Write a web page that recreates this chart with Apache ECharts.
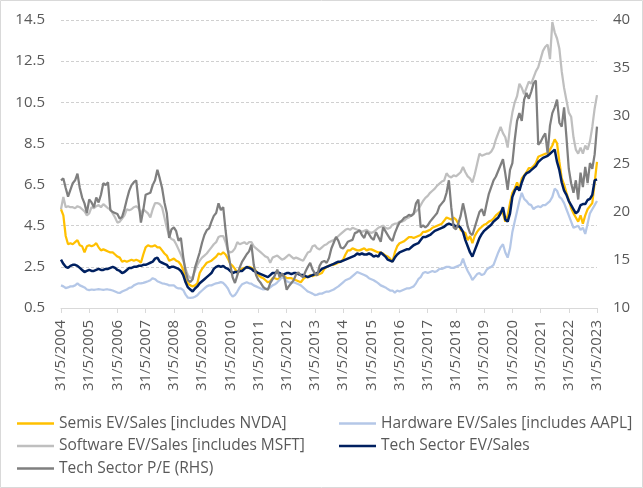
<!DOCTYPE html>
<html>
<head>
<meta charset="utf-8">
<script src="https://cdn.jsdelivr.net/npm/echarts@6/dist/echarts.min.js"></script>
<style>
  html, body { margin: 0; padding: 0; background: #fff; }
  #chart { width: 643px; height: 488px; }
</style>
</head>
<body>
<div id="chart"></div>
<script>
// monthly readings, 31/5/2004 .. 31/5/2023 (one row = one year from May)
var semis = [
  5.3, 5.0, 4.0, 3.6, 3.65, 3.6, 3.7, 3.8, 3.55, 3.5, 3.2, 3.5,
  3.55, 3.5, 3.55, 3.65, 3.45, 3.3, 3.35, 3.3, 3.25, 3.2, 3.2, 3.1,
  3.0, 2.95, 2.75, 2.8, 2.75, 2.8, 2.85, 2.8, 2.85, 2.8, 2.7, 3.1,
  3.45, 3.55, 3.5, 3.5, 3.55, 3.45, 3.45, 3.3, 3.15, 3.05, 2.8, 2.85,
  2.9, 2.8, 2.75, 2.6, 2.35, 1.9, 1.7, 1.6, 1.55, 1.6, 1.7, 2.2,
  2.4, 2.55, 2.7, 2.75, 2.8, 2.9, 3.0, 3.15, 3.1, 3.2, 3.1, 2.9,
  2.65, 2.55, 2.4, 2.2, 2.3, 2.4, 2.45, 2.45, 2.5, 2.45, 2.4, 2.3,
  2.1, 2.0, 1.95, 1.85, 1.75, 1.8, 1.95, 1.95, 1.9, 1.95, 2.0, 2.05,
  1.95, 1.95, 1.95, 1.9, 1.85, 1.8, 1.75, 1.9, 2.0, 2.0, 2.1, 2.05,
  2.1, 2.1, 2.15, 2.2, 2.4, 2.5, 2.55, 2.6, 2.6, 2.65, 2.7, 2.75,
  2.85, 3.1, 3.3, 3.3, 3.4, 3.35, 3.3, 3.3, 3.35, 3.4, 3.3, 3.35,
  3.35, 3.3, 3.25, 3.2, 3.2, 3.15, 3.05, 3.0, 2.9, 2.75, 3.2, 3.5,
  3.65, 3.7, 3.75, 3.85, 3.95, 3.95, 3.9, 3.95, 4.0, 4.05, 4.2, 4.2,
  4.25, 4.3, 4.4, 4.45, 4.5, 4.55, 4.6, 4.75, 4.9, 4.85, 4.8, 4.9,
  4.8, 4.6, 4.3, 4.2, 4.15, 3.8, 4.0, 3.65, 4.0, 4.2, 4.35, 4.45,
  4.55, 4.6, 4.7, 4.75, 4.85, 5.0, 5.1, 5.2, 5.1, 4.7, 5.0, 5.6,
  6.1, 6.3, 6.6, 6.3, 6.8, 6.95, 7.1, 7.3, 7.3, 7.4, 7.55, 7.85,
  7.9, 7.95, 8.0, 8.0, 8.2, 8.4, 8.7, 8.5, 7.6, 6.8, 6.5, 6.1,
  5.75, 5.35, 5.1, 4.9, 4.7, 5.0, 4.6, 5.0, 5.3, 5.45, 5.6, 6.6,
  7.6
];
var hardware = [
  1.6, 1.55, 1.47, 1.5, 1.55, 1.55, 1.6, 1.7, 1.6, 1.55, 1.5, 1.4,
  1.37, 1.4, 1.38, 1.4, 1.42, 1.4, 1.38, 1.4, 1.4, 1.38, 1.35, 1.3,
  1.25, 1.23, 1.3, 1.35, 1.4, 1.48, 1.5, 1.6, 1.65, 1.7, 1.7, 1.72,
  1.76, 1.8, 1.85, 1.95, 1.9, 1.8, 1.75, 1.7, 1.68, 1.65, 1.6, 1.6,
  1.6, 1.5, 1.45, 1.45, 1.37, 1.15, 1.0, 0.99, 1.0, 1.05, 1.12, 1.25,
  1.35, 1.45, 1.55, 1.6, 1.6, 1.65, 1.7, 1.72, 1.76, 1.72, 1.6, 1.45,
  1.2, 1.05, 1.13, 1.3, 1.5, 1.65, 1.7, 1.75, 1.7, 1.68, 1.6, 1.55,
  1.5, 1.45, 1.4, 1.42, 1.45, 1.5, 1.6, 1.65, 1.75, 1.86, 2.0, 1.95,
  1.8, 1.75, 1.72, 1.75, 1.7, 1.65, 1.6, 1.5, 1.4, 1.3, 1.25, 1.2,
  1.13, 1.15, 1.2, 1.2, 1.25, 1.3, 1.3, 1.35, 1.4, 1.48, 1.55, 1.65,
  1.75, 1.85, 1.9, 1.95, 2.05, 2.15, 2.25, 2.2, 2.15, 2.1, 2.05, 1.95,
  1.9, 1.85, 1.78, 1.7, 1.6, 1.55, 1.5, 1.42, 1.35, 1.35, 1.25, 1.35,
  1.3, 1.35, 1.4, 1.45, 1.45, 1.5, 1.55, 1.7, 1.9, 2.0, 2.2, 2.25,
  2.2, 2.25, 2.3, 2.25, 2.3, 2.4, 2.4, 2.45, 2.5, 2.5, 2.45, 2.45,
  2.5, 2.55, 2.6, 2.9, 2.55, 2.3, 2.1, 1.86, 2.0, 2.15, 2.2, 2.1,
  2.15, 2.35, 2.45, 2.5, 2.6, 2.9, 3.2, 3.45, 3.6, 3.2, 2.95, 3.4,
  4.2, 4.7, 5.2, 5.7, 6.1, 5.8, 5.7, 5.55, 5.5, 5.3, 5.4, 5.45,
  5.4, 5.5, 5.5, 5.6, 5.7, 5.9, 6.3, 6.2, 5.9, 5.8, 5.6, 5.3,
  5.0, 4.7, 4.4, 4.45, 4.5, 4.3, 4.4, 4.1, 4.6, 5.1, 5.3, 5.5,
  5.7
];
var software = [
  5.3, 5.9, 5.4, 5.45, 5.4, 5.4, 5.35, 5.45, 5.4, 5.3, 5.2, 5.0,
  5.1, 5.4, 5.35, 5.45, 5.5, 5.4, 5.55, 5.45, 5.35, 5.3, 5.1, 4.9,
  4.65, 4.7, 4.85, 5.0, 5.3, 5.25, 5.3, 5.4, 5.45, 5.35, 5.1, 5.3,
  5.2, 5.1, 4.9, 5.3, 5.6, 5.6, 5.55, 5.4, 4.9, 4.4, 4.0, 3.85,
  3.8, 3.6, 3.35, 3.1, 2.8, 2.4, 2.1, 1.95, 2.0, 2.3, 2.6, 2.8,
  2.95, 3.05, 3.15, 3.3, 3.45, 3.6, 3.7, 3.95, 4.0, 4.0, 3.7, 3.3,
  3.2, 3.25, 3.4, 3.7, 3.6, 3.65, 3.7, 3.6, 3.7, 3.7, 3.5, 3.4,
  3.3, 3.2, 3.1, 3.0, 2.95, 2.7, 2.95, 3.0, 3.05, 2.95, 2.85, 2.9,
  3.0, 3.1, 3.0, 2.9, 2.95, 2.9, 2.85, 2.8, 3.0, 3.2, 3.25, 3.5,
  3.55, 3.4, 3.35, 3.45, 3.55, 3.6, 3.7, 3.75, 3.8, 3.9, 4.0, 4.1,
  4.2, 4.3, 4.35, 4.3, 4.4, 4.35, 4.3, 4.25, 4.2, 4.25, 4.3, 4.2,
  4.15, 4.2, 4.3, 4.4, 4.45, 4.5, 4.4, 4.35, 4.4, 4.55, 4.6, 4.6,
  4.7, 4.7, 4.75, 4.85, 4.9, 5.0, 5.1, 5.2, 5.3, 5.5, 5.7, 5.85,
  5.95, 6.1, 6.2, 6.3, 6.45, 6.55, 6.65, 6.7, 7.05, 6.9, 6.85, 6.95,
  6.9, 7.0, 7.1, 7.35, 7.1, 6.9, 6.8, 6.6, 7.0, 7.5, 8.0, 7.9,
  7.95, 8.0, 8.0, 8.1, 8.3, 8.7, 9.0, 9.3, 9.0, 8.8, 8.3, 9.3,
  10.0, 10.5, 10.8, 11.4, 11.2, 10.9, 11.2, 11.5, 11.4, 11.7, 12.0, 12.2,
  12.6, 13.0, 13.2, 13.3, 12.6, 14.4, 13.9, 13.6, 13.1, 12.0, 11.2, 10.6,
  10.0, 9.8, 8.8, 8.2, 8.0, 8.3, 8.0, 8.4, 8.2, 8.6, 9.3, 10.2,
  10.85
];
var techEvSales = [
  2.85, 2.65, 2.5, 2.45, 2.55, 2.6, 2.6, 2.55, 2.45, 2.35, 2.25, 2.3,
  2.35, 2.3, 2.3, 2.35, 2.4, 2.35, 2.35, 2.4, 2.4, 2.45, 2.5, 2.45,
  2.35, 2.3, 2.2, 2.25, 2.35, 2.45, 2.45, 2.5, 2.5, 2.55, 2.55, 2.6,
  2.6, 2.65, 2.7, 2.75, 2.9, 2.95, 2.75, 2.7, 2.65, 2.6, 2.45, 2.5,
  2.5, 2.45, 2.4, 2.3, 2.1, 1.75, 1.5, 1.4, 1.3, 1.45, 1.55, 1.7,
  1.8, 1.9, 2.0, 2.1, 2.2, 2.4, 2.5, 2.55, 2.5, 2.55, 2.45, 2.4,
  2.3, 2.2, 2.25, 2.25, 2.3, 2.3, 2.4, 2.5, 2.45, 2.4, 2.3, 2.25,
  2.2, 2.15, 2.1, 2.05, 2.0, 2.1, 2.2, 2.2, 2.25, 2.2, 2.1, 2.15,
  2.2, 2.2, 2.15, 2.2, 2.2, 2.15, 2.1, 2.1, 2.05, 2.0, 2.05, 2.1,
  2.15, 2.2, 2.3, 2.4, 2.45, 2.5, 2.55, 2.6, 2.65, 2.7, 2.75, 2.75,
  2.8, 2.85, 2.9, 2.95, 3.0, 3.05, 3.15, 3.1, 3.15, 3.1, 3.1, 3.15,
  3.1, 3.0, 3.05, 3.0, 3.2, 3.1, 3.0, 2.85, 2.8, 2.75, 2.95, 3.1,
  3.2, 3.25, 3.3, 3.35, 3.35, 3.45, 3.55, 3.6, 3.65, 3.8, 3.95, 3.95,
  4.0, 4.05, 4.15, 4.25, 4.3, 4.35, 4.4, 4.45, 4.55, 4.6, 4.55, 4.55,
  4.45, 4.5, 4.4, 4.2, 3.8, 3.5, 3.2, 3.0, 3.3, 3.6, 3.9, 4.1,
  4.25, 4.35, 4.45, 4.55, 4.7, 4.8, 4.9, 5.1, 5.4, 4.8, 4.7, 5.1,
  5.9, 6.2, 6.4, 6.2, 6.6, 6.9, 7.05, 7.1, 7.2, 7.3, 7.4, 7.6,
  7.7, 7.8, 7.85, 7.9, 8.0, 8.1, 8.2, 7.6, 7.2, 6.6, 6.2, 6.0,
  5.7, 5.5, 5.3, 5.1, 5.2, 5.5, 5.55, 5.55, 5.75, 5.8, 6.0, 6.7,
  6.75
];
var techPE = [
  23.3, 23.5, 22.5, 21.6, 22.3, 23.0, 23.3, 24.0, 22.5, 21.5, 20.9, 19.9,
  21.3, 21.0, 20.5, 21.5, 21.0, 21.8, 23.0, 22.8, 23.1, 20.2, 20.0, 19.9,
  19.8, 19.3, 19.5, 20.3, 21.3, 22.2, 22.8, 23.1, 23.3, 21.0, 18.9, 20.2,
  21.8, 21.9, 22.0, 22.8, 23.3, 24.4, 23.5, 22.5, 21.0, 19.9, 17.3, 18.2,
  18.4, 18.0, 17.0, 17.3, 15.3, 13.8, 12.9, 12.7, 13.0, 14.2, 15.0, 15.8,
  16.8, 17.6, 18.1, 18.3, 19.0, 19.6, 19.9, 20.9, 20.2, 20.5, 18.1, 16.0,
  14.5, 13.2, 12.6, 13.4, 14.2, 14.8, 15.2, 15.6, 15.9, 16.6, 14.5, 13.4,
  12.9, 12.6, 12.2, 12.0, 11.9, 12.6, 13.0, 13.4, 14.0, 13.2, 13.6, 13.2,
  11.9, 12.3, 12.6, 12.9, 13.5, 13.7, 13.4, 13.2, 13.8, 14.3, 14.7, 14.0,
  13.6, 13.4, 14.4, 14.8, 14.9, 14.7, 15.2, 16.2, 16.8, 17.4, 17.0, 16.3,
  16.2, 16.5, 16.9, 17.0, 17.1, 17.8, 17.9, 18.1, 17.6, 17.3, 18.0, 17.7,
  17.3, 17.1, 17.9, 17.4, 16.9, 18.4, 18.0, 17.6, 17.2, 17.0, 17.8, 18.4,
  18.9, 19.1, 19.4, 19.5, 19.7, 19.6, 19.8, 20.9, 21.3, 18.4, 18.6, 18.4,
  18.6, 19.0, 19.3, 19.6, 19.9, 20.6, 20.9, 21.2, 22.0, 23.3, 20.5, 18.4,
  18.2, 18.8, 19.6, 20.9, 19.8, 18.5, 17.8, 17.6, 18.4, 19.2, 20.0, 20.3,
  19.6, 20.8, 21.9, 22.6, 23.3, 23.7, 24.3, 24.9, 25.5, 24.0, 22.3, 24.4,
  25.1, 27.5, 29.5, 30.3, 29.5, 31.7, 32.4, 31.8, 32.5, 33.4, 33.7, 27.0,
  27.3, 27.8, 28.2, 26.1, 29.0, 30.3, 30.9, 31.7, 29.3, 28.9, 30.9, 27.8,
  24.5, 23.0, 22.0, 23.3, 21.3, 24.1, 22.6, 24.7, 23.0, 25.1, 24.5, 26.0,
  28.9
];

// month-end dates for the category axis
var months = [];
for (var i = 0; i < semis.length; i++) {
  var d = new Date(Date.UTC(2004, 5 + i, 0));
  months.push(d.getUTCDate() + '/' + (d.getUTCMonth() + 1) + '/' + d.getUTCFullYear());
}

var names = [
  'Semis EV/Sales [includes NVDA]',
  'Hardware EV/Sales [includes AAPL]',
  'Software EV/Sales [includes MSFT]',
  'Tech Sector EV/Sales',
  'Tech Sector P/E (RHS)'
];
var colors = ['#FFC000', '#B4C7E7', '#BFBFBF', '#002060', '#7F7F7F'];

var FONT = '"Open Sans", sans-serif';
var TXT = '#595959';
var yearly = function (idx) { return idx % 12 === 0; };

var chart = echarts.init(document.getElementById('chart'));

function line(k, data, yIdx, w) {
  return {
    name: names[k],
    type: 'line',
    yAxisIndex: yIdx,
    data: data,
    symbol: 'none',
    lineStyle: { color: colors[k], width: w },
    itemStyle: { color: colors[k] },
    animation: false
  };
}

var legendText = { fontFamily: FONT, fontSize: 15.5, color: TXT, lineHeight: 17 };

chart.setOption({
  textStyle: { fontFamily: FONT },
  graphic: [{
    type: 'rect',
    shape: { x: 0.5, y: 0.5, width: 642, height: 487 },
    style: { fill: 'none', stroke: '#D9D9D9', lineWidth: 1 }
  }],
  grid: { left: 61, right: 46, top: 20, bottom: 180 },
  legend: [{
    data: [names[0], names[2], names[4]],
    orient: 'vertical',
    left: 12, top: 410,
    icon: 'rect',
    itemWidth: 37, itemHeight: 2.5, itemGap: 5.5,
    textStyle: legendText
  }, {
    data: [names[1], names[3]],
    orient: 'vertical',
    left: 334, top: 410,
    icon: 'rect',
    itemWidth: 37, itemHeight: 2.5, itemGap: 5.5,
    textStyle: legendText
  }],
  xAxis: {
    type: 'category',
    data: months,
    boundaryGap: false,
    axisLine: { lineStyle: { color: '#D9D9D9' } },
    axisTick: { interval: yearly, length: 5, lineStyle: { color: '#D9D9D9' } },
    axisLabel: { interval: yearly, rotate: 90, margin: 12, fontSize: 15, color: TXT, fontFamily: FONT },
    splitLine: { show: false }
  },
  yAxis: [{
    type: 'value',
    min: 0.5, max: 14.5, interval: 2,
    axisLine: { show: false },
    axisTick: { show: false },
    axisLabel: { margin: 16, fontSize: 15, color: TXT, fontFamily: FONT,
      formatter: function (v) { return v.toFixed(1); } },
    splitLine: { lineStyle: { color: '#D0D0D0', type: [3, 2] } }
  }, {
    type: 'value',
    min: 10, max: 40, interval: 5,
    axisLine: { show: false },
    axisTick: { show: false },
    axisLabel: { margin: 16, fontSize: 15, color: TXT, fontFamily: FONT },
    splitLine: { show: false }
  }],
  series: [
    line(0, semis, 0, 2.25),
    line(1, hardware, 0, 2.25),
    line(2, software, 0, 2.25),
    line(3, techEvSales, 0, 2.5),
    line(4, techPE, 1, 2.25)
  ]
});
</script>
</body>
</html>
